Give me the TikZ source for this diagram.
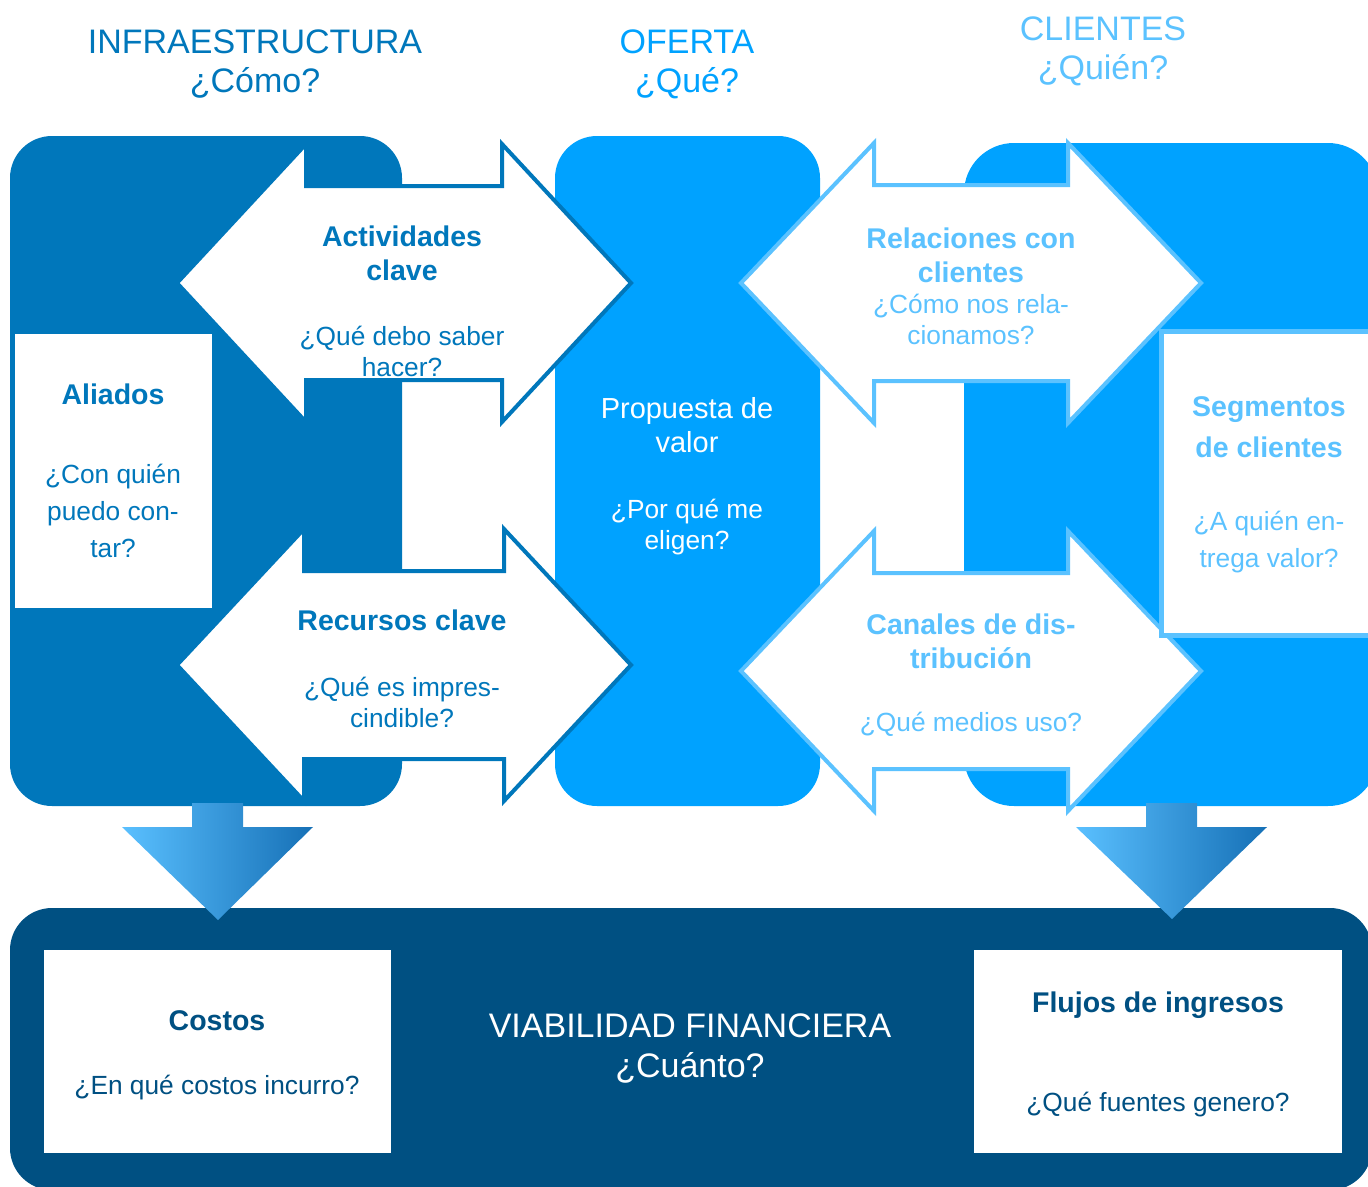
\documentclass[tikz,border=0pt]{standalone}
\usepackage{fontspec}
\setmainfont{Liberation Sans}
\definecolor{infra}{HTML}{0077BB}
\definecolor{oferta}{HTML}{00A2FF}
\definecolor{cliente}{HTML}{5BC2FF}
\definecolor{finanza}{HTML}{005082}
\definecolor{gradlo}{HTML}{5AC0FF}
\definecolor{gradhi}{HTML}{1670B6}

% double-headed block arrow: #1 style, #2 cx, #3 cy, #4 tip half-width,
% #5 shaft half-width, #6 head half-height, #7 shaft half-height
\newcommand{\DblHeadArrow}[7]{%
  \draw[#1] (#2-#4,#3) -- (#2-#5,#3-#6) -- (#2-#5,#3-#7) -- (#2+#5,#3-#7)
    -- (#2+#5,#3-#6) -- (#2+#4,#3) -- (#2+#5,#3+#6) -- (#2+#5,#3+#7)
    -- (#2-#5,#3+#7) -- (#2-#5,#3+#6) -- cycle;}

\tikzset{
  ttl/.style={inner sep=0pt, align=center, font=\fontsize{34}{39}\selectfont},
  hd/.style={inner sep=0pt, align=center, font=\fontsize{28.5}{34}\selectfont\bfseries},
  qs/.style={inner sep=0pt, align=center, font=\fontsize{26.3}{31}\selectfont},
  leftarrow/.style={fill=white, draw=infra, line width=4pt, line join=miter},
  rightarrow/.style={fill=white, draw=cliente, line width=4pt, line join=miter},
  whitebox/.style={fill=white}
}

\begin{document}
\begin{tikzpicture}[x=1pt, y=-1pt]
\useasboundingbox (0,0) rectangle (1368,1186);
\clip (0,0) rectangle (1368,1186);

% column blocks
\fill[infra, rounded corners=42pt] (10,136) rectangle (402,806);
\fill[oferta, rounded corners=42pt] (555,136) rectangle (820,806);
\fill[oferta, rounded corners=50pt] (964,143) rectangle (1378,806);
% financial band
\fill[finanza, rounded corners=42pt] (10,908) rectangle (1372,1190);

% block arrows
\DblHeadArrow{leftarrow}{404}{283}{227}{98}{139}{97}
\DblHeadArrow{leftarrow}{404}{665}{227}{100}{136}{94}
\DblHeadArrow{rightarrow}{971}{283}{230}{97}{140}{98}
\DblHeadArrow{rightarrow}{971}{671}{230}{97}{140}{98}

% white panels
\fill[whitebox] (15,334) rectangle (212,608);
\filldraw[whitebox, draw=cliente, line width=5pt] (1161,331) rectangle (1390,635);
\fill[whitebox] (44,950) rectangle (391,1153);
\fill[whitebox] (974,950) rectangle (1342,1153);

% gradient arrows into the financial band
\shade[left color=gradlo, right color=gradhi]
  (192,803) -- (243,803) -- (243,827) -- (313,827) -- (218,920)
  -- (122,827) -- (192,827) -- cycle;
\shade[left color=gradlo, right color=gradhi]
  (1146,803) -- (1197,803) -- (1197,827) -- (1267,827) -- (1172,919)
  -- (1076,827) -- (1146,827) -- cycle;

% column headings
\node[ttl, text=infra] (hinfra) at (255,64) {INFRAESTRUCTURA\\¿Cómo?};
\node[ttl, text=oferta] (hoferta) at (687,64) {OFERTA\\¿Qué?};
\node[ttl, text=cliente] (hclientes) at (1103,51) {CLIENTES\\¿Quién?};

% infrastructure
\node[hd, text=infra] (act) at (402,253) {Actividades\\clave};
\node[qs, text=infra] (actq) at (402,351) {¿Qué debo saber\\hacer?};
\node[hd, text=infra] (ali) at (113,394) {Aliados};
\node[qs, text=infra, font=\fontsize{26.3}{37}\selectfont] (aliq) at (113,511) {¿Con quién\\puedo con-\\tar?};
\node[hd, text=infra] (rec) at (402,620) {Recursos clave};
\node[qs, text=infra] (recq) at (402,702) {¿Qué es impres-\\cindible?};

% offer
\node[hd, text=white, font=\fontsize{29}{34}\selectfont] (prop) at (687,425) {Propuesta de\\valor};
\node[qs, text=white] (propq) at (687,527) {¿Por qué me\\eligen?};

% customers
\node[hd, text=cliente] (rel) at (971,255) {Relaciones con\\clientes};
\node[qs, text=cliente] (relq) at (971,319) {¿Cómo nos rela-\\cionamos?};
\node[hd, text=cliente, font=\fontsize{28.5}{41}\selectfont\bfseries] (seg) at (1269,427) {Segmentos\\de clientes};
\node[qs, text=cliente, font=\fontsize{26.3}{37}\selectfont] (segq) at (1269,542) {¿A quién en-\\trega valor?};
\node[hd, text=cliente] (can) at (971,641) {Canales de dis-\\tribución};
\node[qs, text=cliente] (canq) at (971,724) {¿Qué medios uso?};

% financial viability
\node[hd, text=finanza] (cos) at (217,1021) {Costos};
\node[qs, text=finanza] (cosq) at (217,1088) {¿En qué costos incurro?};
\node[ttl, text=white, font=\fontsize{34}{40}\selectfont] (via) at (690,1049) {VIABILIDAD FINANCIERA\\¿Cuánto?};
\node[hd, text=finanza] (flu) at (1158,1005) {Flujos de ingresos};
\node[qs, text=finanza] (fluq) at (1158,1105) {¿Qué fuentes genero?};
\end{tikzpicture}
\end{document}
